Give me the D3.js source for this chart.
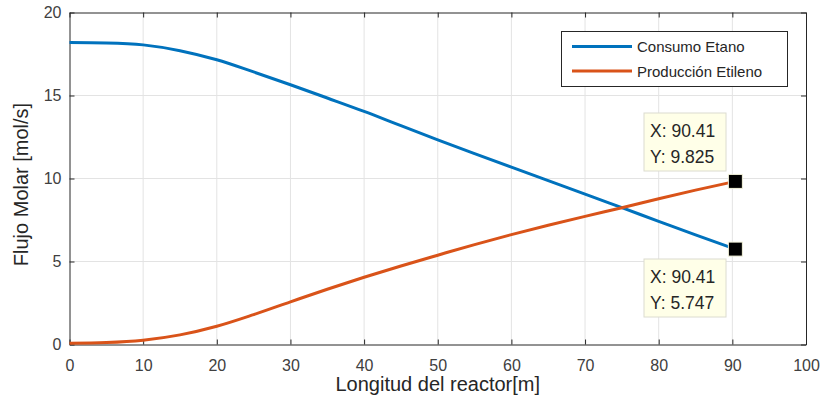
<!DOCTYPE html>
<html><head><meta charset="utf-8">
<script src="https://cdn.jsdelivr.net/npm/d3@7"></script>
<style>body{margin:0;background:#fff;} text{font-family:"Liberation Sans",Arial,Helvetica,sans-serif;}</style>
</head><body><svg id="c" width="825" height="411"></svg>
<script>
const xValues = [0, 5, 10, 15, 20, 25, 30, 35, 40, 45, 50, 55, 60, 65, 70, 75, 80, 85, 90.41];
const consumoEtano = [18.2, 18.17, 18.05, 17.7, 17.15, 16.42, 15.65, 14.85, 14.04, 13.18, 12.33, 11.5, 10.68, 9.87, 9.06, 8.24, 7.42, 6.6, 5.747];
const produccionEtileno = [0.08, 0.12, 0.26, 0.58, 1.1, 1.8, 2.57, 3.33, 4.05, 4.73, 5.38, 6.02, 6.62, 7.18, 7.72, 8.24, 8.78, 9.3, 9.825];
const seriesNames = ["Consumo Etano", "Producción Etileno"];
const xTicks = [0, 10, 20, 30, 40, 50, 60, 70, 80, 90, 100];
const yTicks = [0, 5, 10, 15, 20];
const datatips = [
  {x: 90.41, y: 9.825, lines: ["X: 90.41", "Y: 9.825"], pos: "above"},
  {x: 90.41, y: 5.747, lines: ["X: 90.41", "Y: 5.747"], pos: "below"}
];

const svg = d3.select("#c");
const L = 69.5, R = 806, T = 12.5, B = 344.5;
const x = d3.scaleLinear().domain([0, 100]).range([L, R]);
const y = d3.scaleLinear().domain([0, 20]).range([B, T]);
const axisCol = "#262626";

// grid
svg.append("g").selectAll("line").data(xTicks.slice(1, -1)).join("line")
  .attr("x1", d => x(d)).attr("x2", d => x(d)).attr("y1", T).attr("y2", B)
  .attr("stroke", "#e3e3e3").attr("stroke-width", 1);
svg.append("g").selectAll("line").data(yTicks.slice(1, -1)).join("line")
  .attr("y1", d => y(d)).attr("y2", d => y(d)).attr("x1", L).attr("x2", R)
  .attr("stroke", "#e3e3e3").attr("stroke-width", 1);

// axes
const fmt = d3.format("d");
const gx = svg.append("g").attr("transform", `translate(0,${B})`)
  .call(d3.axisBottom(x).tickValues(xTicks).tickFormat(fmt).tickSizeInner(-5).tickSizeOuter(0).tickPadding(15));
const gxt = svg.append("g").attr("transform", `translate(0,${T})`)
  .call(d3.axisTop(x).tickValues(xTicks).tickFormat("").tickSizeInner(-5).tickSizeOuter(0));
const gy = svg.append("g").attr("transform", `translate(${L},0)`)
  .call(d3.axisLeft(y).tickValues(yTicks).tickFormat(fmt).tickSizeInner(-5).tickSizeOuter(0).tickPadding(8));
const gyr = svg.append("g").attr("transform", `translate(${R},0)`)
  .call(d3.axisRight(y).tickValues(yTicks).tickFormat("").tickSizeInner(-5).tickSizeOuter(0));
[gx, gxt, gy, gyr].forEach(g => {
  g.select(".domain").attr("stroke", axisCol).attr("stroke-width", 1);
  g.selectAll(".tick line").attr("stroke", axisCol);
  g.selectAll(".tick text").attr("fill", "#404040").style("font-size", "16px")
    .style("font-family", "'Liberation Sans', Arial, sans-serif");
});

// lines
const line = d3.line().x((d, i) => x(xValues[i])).y(d => y(d)).curve(d3.curveMonotoneX);
const colors = ["#0072BD", "#D95319"];
[consumoEtano, produccionEtileno].forEach((s, k) => {
  svg.append("path").datum(s).attr("d", line).attr("fill", "none")
    .attr("stroke", colors[k]).attr("stroke-width", 3);
});

// axis labels
svg.append("text").attr("x", (L + R) / 2).attr("y", 391).attr("text-anchor", "middle")
  .attr("fill", "#262626").style("font-size", "20px").text("Longitud del reactor[m]");
svg.append("text").attr("transform", `translate(28,${(T + B) / 2 + 6}) rotate(-90)`).attr("text-anchor", "middle")
  .attr("fill", "#262626").style("font-size", "20px").text("Flujo Molar [mol/s]");

// legend
const lg = svg.append("g");
lg.append("rect").attr("x", 561.5).attr("y", 31.5).attr("width", 226).attr("height", 55)
  .attr("fill", "#fff").attr("stroke", "#262626").attr("stroke-width", 1);
seriesNames.forEach((n, k) => {
  const yy = 46.5 + k * 24.5;
  lg.append("line").attr("x1", 572).attr("x2", 632).attr("y1", yy).attr("y2", yy)
    .attr("stroke", colors[k]).attr("stroke-width", 3);
  lg.append("text").attr("x", 637).attr("y", yy + 5.5).attr("fill", "#262626")
    .style("font-size", "15px").text(n);
});

// datatips
datatips.forEach(d => {
  const px = x(d.x), py = y(d.y);
  const g = svg.append("g");
  const top = d.pos === "above" ? 113 : 259;
  g.append("rect").attr("x", 644).attr("y", top).attr("width", 82).attr("height", 58)
    .attr("fill", "#ffffe8").attr("stroke", "#dcdcd0").attr("stroke-width", 1);
  d.lines.forEach((t, i) => {
    g.append("text").attr("x", 650).attr("y", top + 24 + i * 26).attr("fill", "#262626")
      .style("font-size", "17.5px").text(t);
  });
  g.append("rect").attr("x", px - 7).attr("y", py - 7).attr("width", 14).attr("height", 14)
    .attr("fill", "#000").attr("stroke", "#f4f4dc").attr("stroke-width", 1);
});
</script></body></html>
